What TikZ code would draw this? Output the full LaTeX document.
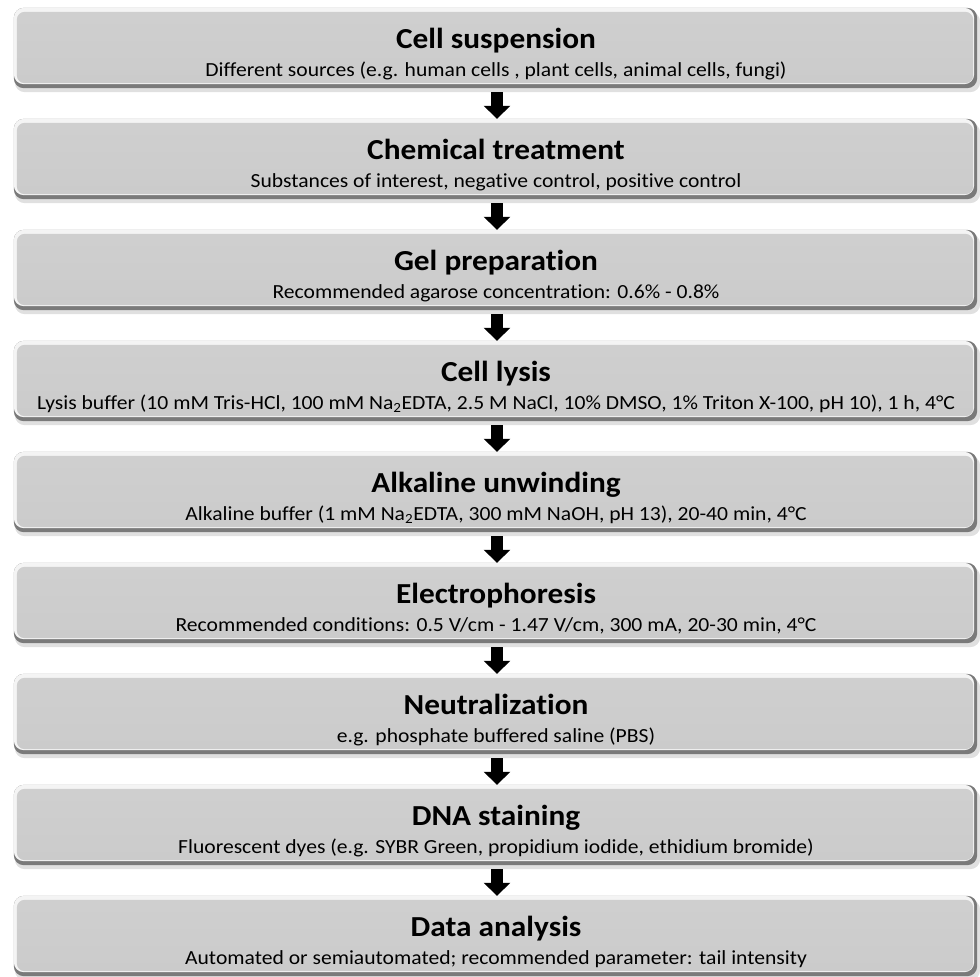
\documentclass[tikz,border=0pt]{standalone}
\usepackage{fontspec}
\setmainfont[Ligatures={NoCommon}]{Carlito}
\newfontfamily\titlefont[Ligatures={NoCommon},FakeStretch=1.08]{Carlito}
\newfontfamily\subfont[Ligatures={NoCommon},FakeStretch=1.08]{Carlito}
\usetikzlibrary{arrows.meta}
\definecolor{face}{HTML}{CBCBCB}
\definecolor{rim}{HTML}{7A7A7A}
\definecolor{hilite}{HTML}{F4F4F4}
\tikzset{
  stepbox/.style={rectangle, minimum width=963pt, minimum height=80pt, inner sep=0pt},
  titletext/.style={font=\titlefont\fontsize{29}{31}\selectfont\bfseries, anchor=base},
  subtext/.style={font=\subfont\fontsize{20}{22}\selectfont, anchor=base},
  blockarrow/.style={line width=12pt, -{Triangle[width=26pt,length=13pt]}, black},
}
\newcommand{\bevelbox}[1]{%
  \fill[black, opacity=0.12, rounded corners=10pt] ([xshift=1pt,yshift=-4pt]#1.north west) rectangle ([xshift=3pt,yshift=-4pt]#1.south east);
  \fill[rim, rounded corners=10pt] (#1.north west) rectangle (#1.south east);
  \fill[hilite, rounded corners=10pt] (#1.north west) rectangle ([xshift=-3pt,yshift=4pt]#1.south east);
  \shade[top color=face!92!white, bottom color=face, rounded corners=8pt] ([xshift=3pt,yshift=-4pt]#1.north west) rectangle ([xshift=-4pt,yshift=5pt]#1.south east);
}
\begin{document}
\begin{tikzpicture}[x=1pt,y=-1pt]
\useasboundingbox (0,0) rectangle (980,977);
\foreach \i/\t/\s in {
 0/{Cell suspension}/{Different sources (e.g. human cells , plant cells, animal cells, fungi)},
 1/{Chemical treatment}/{Substances of interest, negative control, positive control},
 2/{Gel preparation}/{Recommended agarose concentration: 0.6\% - 0.8\%},
 3/{Cell lysis}/{Lysis buffer (10 mM Tris-HCl, 100 mM Na\textsubscript{2}EDTA, 2.5 M NaCl, 10\% DMSO, 1\% Triton X-100, pH 10), 1 h, 4°C},
 4/{Alkaline unwinding}/{Alkaline buffer (1 mM Na\textsubscript{2}EDTA, 300 mM NaOH, pH 13), 20-40 min, 4°C},
 5/{Electrophoresis}/{Recommended conditions: 0.5 V/cm - 1.47 V/cm, 300 mA, 20-30 min, 4°C},
 6/{Neutralization}/{e.g. phosphate buffered saline (PBS)},
 7/{DNA staining}/{Fluorescent dyes (e.g. SYBR Green, propidium iodide, ethidium bromide)},
 8/{Data analysis}/{Automated or semiautomated; recommended parameter: tail intensity}}
{
  \pgfmathsetmacro{\top}{8+111*\i}
  \node[stepbox] (b\i) at (495.5,\top+40) {};
  \bevelbox{b\i}
  \node[titletext] (t\i) at (496,\top+40) {\t};
  \node[subtext] (s\i) at (496,\top+68) {\s};
}
\foreach \i [evaluate=\i as \j using int(\i+1)] in {0,...,7}{
  \draw[blockarrow] ([xshift=1.5pt,yshift=-4pt]b\i.south) -- ([xshift=1.5pt]b\j.north);
}
\end{tikzpicture}
\end{document}
